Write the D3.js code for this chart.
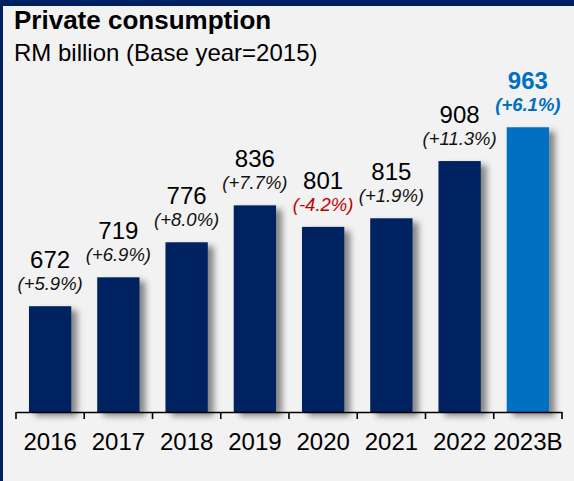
<!DOCTYPE html>
<html>
<head>
<meta charset="utf-8">
<script src="https://cdn.jsdelivr.net/npm/d3@7"></script>
<style>
  html, body { margin: 0; padding: 0; background: #f2f2f2; }
  svg { display: block; }
  text { font-family: "Liberation Sans", Arial, sans-serif; }
</style>
</head>
<body>
<svg id="chart" width="574" height="481"></svg>
<script>
// Private consumption, RM billion at constant 2015 prices
const years = ["2016", "2017", "2018", "2019", "2020", "2021", "2022", "2023B"];
const values = [672, 719, 776, 836, 801, 815, 908, 963];
const growth = ["+5.9%", "+6.9%", "+8.0%", "+7.7%", "-4.2%", "+1.9%", "+11.3%", "+6.1%"];

const W = 574, H = 481;
const navy = "#002060", blue = "#0070c0";
const svg = d3.select("#chart");

// frame: light panel with navy top and left edges
svg.append("rect").attr("width", W).attr("height", H).attr("fill", "#f2f2f2");
svg.append("rect").attr("x", 0).attr("y", 0).attr("width", W).attr("height", 6).attr("fill", navy);
svg.append("rect").attr("x", 0).attr("y", 0).attr("width", 3).attr("height", H).attr("fill", navy);

// soft shadow behind each bar
const defs = svg.append("defs");
const f = defs.append("filter").attr("id", "shadow")
  .attr("x", "-20%").attr("y", "-10%").attr("width", "160%").attr("height", "130%");
f.append("feDropShadow").attr("dx", 6).attr("dy", 4).attr("stdDeviation", 3)
  .attr("flood-color", "#000").attr("flood-opacity", 0.45);

svg.append("text").attr("x", 14).attr("y", 29)
  .attr("font-size", 26).attr("font-weight", "bold").attr("fill", "#000")
  .text("Private consumption");
svg.append("text").attr("x", 14).attr("y", 61)
  .attr("font-size", 24).attr("fill", "#000")
  .text("RM billion (Base year=2015)");

const x = d3.scaleBand().domain(years).range([16, 562])
  .paddingInner(0.38).paddingOuter(0.19);
const y = d3.scaleLinear().domain([500, 1000]).range([412, 104.5]);

const data = years.map((yr, i) => ({ yr, v: values[i], g: growth[i], last: i === years.length - 1 }));

svg.append("g").selectAll("rect").data(data).join("rect")
  .attr("x", d => x(d.yr))
  .attr("y", d => y(d.v))
  .attr("width", x.bandwidth())
  .attr("height", d => y(500) - y(d.v))
  .attr("fill", d => d.last ? blue : navy)
  .attr("filter", "url(#shadow)");

// value labels
svg.append("g").selectAll("text").data(data).join("text")
  .attr("x", d => x(d.yr) + x.bandwidth() / 2)
  .attr("y", d => y(d.v) - 38)
  .attr("text-anchor", "middle")
  .attr("font-size", 24)
  .attr("font-weight", d => d.last ? "bold" : "normal")
  .attr("fill", d => d.last ? blue : "#000")
  .text(d => d.v);

// growth labels
svg.append("g").selectAll("text").data(data).join("text")
  .attr("x", d => x(d.yr) + x.bandwidth() / 2)
  .attr("y", d => y(d.v) - 16)
  .attr("text-anchor", "middle")
  .attr("font-size", 18.5)
  .attr("font-style", "italic")
  .attr("font-weight", d => d.last ? "bold" : "normal")
  .attr("fill", d => d.last ? blue : (d.g.startsWith("-") ? "#c00000" : "#111"))
  .text(d => "(" + d.g + ")");

// category axis with boundary ticks
const axis = svg.append("g").attr("transform", `translate(0,${y(500)})`)
  .call(d3.axisBottom(x).tickSize(0).tickPadding(21));
axis.select(".domain").attr("stroke", "#000").attr("stroke-width", 1.6);
axis.selectAll(".tick text").attr("font-size", 24).attr("fill", "#000")
  .attr("font-family", "Liberation Sans, Arial, sans-serif");
const bounds = d3.range(years.length + 1).map(i => x.range()[0] + i * x.step());
axis.selectAll(".bound").data(bounds).join("line").attr("class", "bound")
  .attr("x1", d => d).attr("x2", d => d).attr("y1", 0).attr("y2", 7)
  .attr("stroke", "#000").attr("stroke-width", 1.6);
</script>
</body>
</html>
